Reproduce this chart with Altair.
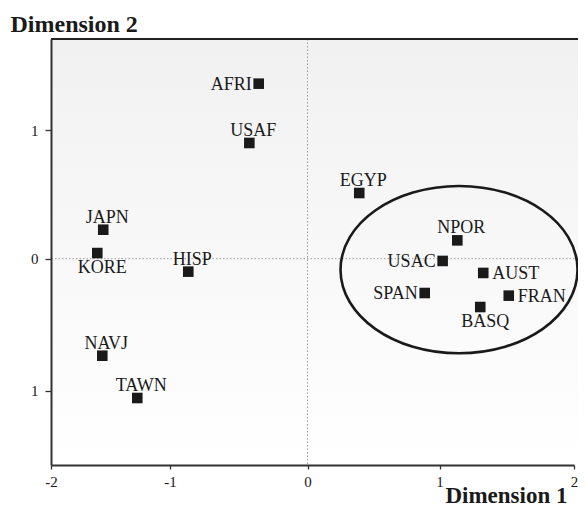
import altair as alt
import pandas as pd

# ---- data ----
labels = ["AFRI", "USAF", "EGYP", "NPOR", "USAC", "AUST", "SPAN", "FRAN", "BASQ",
          "JAPN", "KORE", "HISP", "NAVJ", "TAWN"]
dim1 = [-0.355, -0.423, 0.392, 1.125, 1.022, 1.307, 0.888, 1.486, 1.286,
        -1.561, -1.611, -0.867, -1.569, -1.275]
dim2 = [1.364, 0.902, 0.512, 0.143, -0.017, -0.108, -0.260, -0.280, -0.366,
        0.226, 0.044, -0.098, -0.735, -1.055]
label_side = {"AFRI": "left", "USAF": "above", "EGYP": "above", "NPOR": "above",
              "USAC": "left", "AUST": "right", "SPAN": "left", "FRAN": "right",
              "BASQ": "below", "JAPN": "above", "KORE": "below", "HISP": "above",
              "NAVJ": "above", "TAWN": "above"}
cluster_center = [1.137, -0.083]

x_ticks = [-2, -1, 0, 1, 2]
y_ticks = [-1, 0, 1]

df = pd.DataFrame({"label": labels, "d1": dim1, "d2": dim2})
df["side"] = df["label"].map(label_side)

# ---- layout ----
W, H = 527, 426
FONT = "Liberation Serif"
INK = "#1a1a1a"

# the printed axes are slightly uneven; follow the printed tick positions
xscale = alt.Scale(domain=[-2, -1, 0, 1, 1.5, 2], range=[0, 119, 256.5, 388.5, 459.75, 523],
                   nice=False, zero=False)
yscale = alt.Scale(domain=[-1.56, -1, 0, 1, 1.712], range=[H, 351.7, 219.7, 91.4, 0],
                   nice=False, zero=False)

xaxis = alt.Axis(values=x_ticks, title="Dimension 1", grid=False, zindex=1,
                 labelFlush=False, tickSize=4, labelPadding=5,
                 labelExpr="(datum.value < 0 ? '-' : '') + abs(datum.value)",
                 titleX=W - 11, titleY=37, titleAlign="right",
                 titleBaseline="alphabetic", titleFontSize=23)
yaxis = alt.Axis(values=y_ticks, title="Dimension 2", grid=False, zindex=1,
                 tickSize=6, labelPadding=7,
                 labelExpr="format(abs(datum.value), 'd')",
                 titleAngle=0, titleX=-41, titleY=-8, titleAlign="left",
                 titleBaseline="alphabetic", titleFontSize=24)


def X(field):
    return alt.X(field, type="quantitative", scale=xscale, axis=xaxis, title="Dimension 1")


def Y(field):
    return alt.Y(field, type="quantitative", scale=yscale, axis=yaxis, title="Dimension 2")


bg = alt.Chart(pd.DataFrame({"a": [0]})).mark_rect(
    color=alt.LinearGradient(gradient="linear", x1=0, x2=0, y1=0, y2=1,
                             stops=[alt.GradientStop(color="#f1f1f1", offset=0),
                                    alt.GradientStop(color="#ffffff", offset=1)])
).encode(x=alt.value(0), x2=alt.value(W), y=alt.value(0), y2=alt.value(H))

top_border = alt.Chart(pd.DataFrame({"a": [0]})).mark_rule(color="#222222", strokeWidth=2).encode(
    x=alt.value(0), x2=alt.value(W + 2), y=alt.value(0))

zero_df = pd.DataFrame({"z": [0]})
vrule = alt.Chart(zero_df).mark_rule(color="#9a9a9a", strokeDash=[1.5, 2], strokeWidth=1).encode(
    x=X("z"))
hrule = alt.Chart(zero_df).mark_rule(color="#9a9a9a", strokeDash=[1.5, 2], strokeWidth=1).encode(
    y=Y("z"))

ell_df = pd.DataFrame({"cx": [cluster_center[0]], "cy": [cluster_center[1]]})
ellipse = alt.Chart(ell_df).mark_point(
    shape="M-1,0A1,0.706,0,1,1,1,0A1,0.706,0,1,1,-1,0Z",
    size=237 * 237, filled=False, stroke=INK, strokeWidth=2.6, opacity=1
).encode(x=X("cx"), y=Y("cy"))

points = alt.Chart(df).mark_square(size=112, color=INK, opacity=1).encode(x=X("d1"), y=Y("d2"))


def text_layer(side, **kw):
    return alt.Chart(df).transform_filter(alt.datum.side == side).mark_text(
        font=FONT, fontSize=18, color=INK, baseline="alphabetic", **kw
    ).encode(x=X("d1"), y=Y("d2"), text="label:N")


t_above = text_layer("above", align="center", dx=4, dy=-7)
t_below = text_layer("below", align="center", dx=5, dy=20)
t_left = text_layer("left", align="right", dx=-7, dy=6)
t_right = text_layer("right", align="left", dx=9, dy=6)

chart = alt.layer(bg, vrule, hrule, ellipse, points, t_above, t_below, t_left, t_right,
                  top_border).properties(
    width=W, height=H,
    padding={"left": 43, "top": 31, "right": 0, "bottom": 41},
    autosize=alt.AutoSizeParams(type="none"),
    background="white",
).configure_view(stroke=None).configure_axis(
    domainColor="#333333", domainWidth=2, tickColor="#333333", tickWidth=1.3,
    labelFont=FONT, labelFontSize=15, labelColor=INK,
    titleFont=FONT, titleFontWeight="bold", titleColor=INK,
)

chart.save("out.html", embed_options={"renderer": "svg", "actions": False})
